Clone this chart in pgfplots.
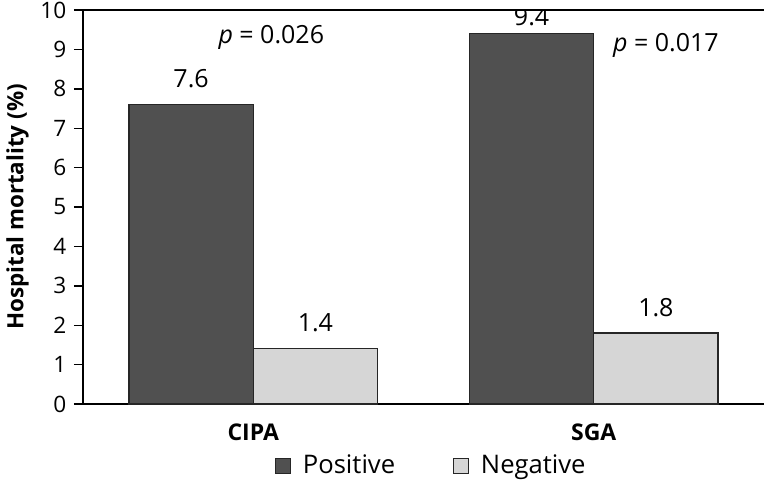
\documentclass[border=0pt]{standalone}
\usepackage{fontspec}
\setmainfont{Open Sans}
\usepackage{pgfplots}
\pgfplotsset{compat=1.18}
\definecolor{darkbar}{RGB}{80,80,80}
\definecolor{lightbar}{RGB}{214,214,214}
\begin{document}
\begin{tikzpicture}
\useasboundingbox (-41.5pt,-40pt) rectangle (341pt,202pt);
\begin{axis}[
  at={(0pt,0pt)}, anchor=south west,
  scale only axis, width=340.5pt, height=197pt,
  xmin=-0.5, xmax=1.5, ymin=0, ymax=10,
  axis x line=box, axis y line=left,
  axis line style={-, line width=0.7pt, black},
  ytick={0,1,...,10},
  tick align=outside,
  y tick style={line width=0.7pt, black},
  major tick length=4.5pt,
  xtick={0,1}, xticklabels={CIPA,SGA},
  x tick style={draw=none},
  xticklabel style={font=\fontsize{11.5}{13}\selectfont\bfseries, yshift=-2pt},
  yticklabel style={font=\fontsize{11.3}{13}\selectfont, xshift=-0.3pt},
  /pgf/number format/assume math mode=true,
  ylabel={Hospital mortality (\%)},
  ylabel style={font=\fontsize{11.2}{12}\selectfont\bfseries, yshift=-1pt},
  ybar=0pt, bar width=0.365,
  legend columns=2,
  legend style={draw=none, at={(0.513,-0.157)}, anchor=center,
    font=\fontsize{12.8}{14}\selectfont,
    /tikz/every odd column/.append style={column sep=4pt},
    /tikz/every even column/.append style={column sep=27pt}},
  legend image code/.code={\draw[#1, line width=0.5pt] (0pt,-3.7pt) rectangle (7.4pt,3.7pt);},
]
\addplot[fill=darkbar, draw=black!85, line width=0.6pt, bar shift=-0.1825] coordinates {(0,7.6) (1,9.4)};
\addplot[fill=lightbar, draw=black!85, line width=0.6pt, bar shift=0.1825] coordinates {(0,1.4) (1,1.8)};
\legend{Positive, Negative}
\node[font=\fontsize{12.5}{14}\selectfont] at (axis cs:-0.1825,8.25) {7.6};
\node[font=\fontsize{12.5}{14}\selectfont] at (axis cs:0.1825,2.06) {1.4};
\node[font=\fontsize{12.5}{14}\selectfont] at (axis cs:0.8175,9.83) {9.4};
\node[font=\fontsize{12.5}{14}\selectfont] at (axis cs:1.1825,2.44) {1.8};
\node[font=\fontsize{12.5}{14}\selectfont] at (axis cs:0.053,9.31) {\textit{p} = 0.026};
\node[font=\fontsize{12.5}{14}\selectfont] at (axis cs:1.212,9.09) {\textit{p} = 0.017};
\end{axis}
\end{tikzpicture}
\end{document}
